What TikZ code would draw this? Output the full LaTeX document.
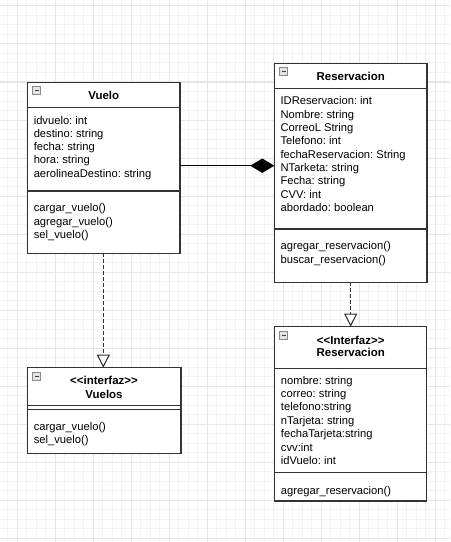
\documentclass[tikz,border=0pt]{standalone}
\usepackage{fontspec}
\newfontfamily\umlfont{Liberation Sans}
\usetikzlibrary{arrows.meta}
\definecolor{gridminor}{HTML}{F3F3F3}
\definecolor{gridmajor}{HTML}{E6E6E6}
\definecolor{boxline}{HTML}{333333}
\definecolor{iconfill}{HTML}{E4E4E4}
\definecolor{iconline}{HTML}{8A8A8A}
\frenchspacing
\tikzset{
  classbox/.style={draw=boxline, line width=1pt, fill=white, inner sep=0pt, outer sep=0pt, anchor=north west},
  sepline/.style={draw=boxline, line width=1pt},
  txt/.style={inner sep=0pt, anchor=base west, font=\umlfont\fontsize{8.4}{10}\selectfont},
  ttl/.style={inner sep=0pt, anchor=base, font=\umlfont\bfseries\fontsize{8.6}{10}\selectfont},
  realize/.style={draw=boxline, line width=0.8pt, dash pattern=on 2.4pt off 2.1pt,
    -{Triangle[length=9.8pt,width=9.8pt,fill=white,line width=0.8pt]}},
  compose/.style={draw=black, line width=0.8pt, -{Diamond[length=18pt,width=10.8pt]}},
}
% collapse icon drawn in the top-left corner of a class box
\newcommand{\collapseicon}[2]{%
  \draw[draw=iconline, fill=iconfill, line width=0.5pt] (#1,#2) rectangle ++(8,8);
  \draw[draw=black!75, line width=0.5pt] (#1+2,#2+4) -- ++(4,0);
}
\begin{document}
\begin{tikzpicture}[x=0.75pt,y=-0.75pt]
\useasboundingbox (0,0) rectangle (450,542);
\fill[white] (0,0) rectangle (450,542);

% background grid
\foreach \i in {-2,...,58} {
  \draw[gridminor, line width=0.75pt] (17+\i*9.5,0) -- (17+\i*9.5,542);
  \draw[gridminor, line width=0.75pt] (0,6+\i*9.5) -- (450,6+\i*9.5);
}
\foreach \i in {0,...,14} {
  \draw[gridmajor, line width=0.75pt] (17+\i*38,0) -- (17+\i*38,542);
  \draw[gridmajor, line width=0.75pt] (0,6+\i*38) -- (450,6+\i*38);
}

% ---------- class Vuelo ----------
\node[classbox, minimum width=152.7*0.75pt, minimum height=171*0.75pt] (vuelo) at (27.3,82.3) {};
\draw[sepline] (vuelo.west |- 0,107.7) -- (vuelo.east |- 0,107.7);
\draw[sepline] (vuelo.west |- 0,191) -- (vuelo.east |- 0,191);
\collapseicon{32.7}{86.7}
\node[ttl] (vuelotitle) at (103.7,99) {Vuelo};
\foreach \t [count=\i] in {idvuelo: int, destino: string, fecha: string, hora: string, aerolineaDestino: string}
  \node[txt] (vueloattr\i) at (33.5,124+13.3*\i-13.3) {\t};
\foreach \t [count=\i] in {cargar\_vuelo(), agregar\_vuelo(), sel\_vuelo()}
  \node[txt] (vueloop\i) at (33.5,211.7+13.3*\i-13.3) {\t};

% ---------- class Reservacion ----------
\node[classbox, minimum width=152.7*0.75pt, minimum height=219*0.75pt] (res) at (274.3,63.3) {};
\draw[sepline] (res.west |- 0,88.3) -- (res.east |- 0,88.3);
\draw[sepline] (res.west |- 0,229) -- (res.east |- 0,229);
\collapseicon{279.5}{67.5}
\node[ttl] (restitle) at (350.7,80) {Reservacion};
\foreach \t [count=\i] in {IDReservacion: int, Nombre: string, CorreoL String, Telefono: int,
    fechaReservacion: String, NTarketa: string, Fecha: string, CVV: int, abordado: boolean}
  \node[txt] (resattr\i) at (280.3,104.7+13.37*\i-13.37) {\t};
\foreach \t [count=\i] in {agregar\_reservacion(), buscar\_reservacion()}
  \node[txt] (resop\i) at (280.3,249.7+13.3*\i-13.3) {\t};

% ---------- interface Vuelos ----------
\node[classbox, minimum width=153.7*0.75pt, minimum height=85.6*0.75pt] (vuelos) at (27.3,367.7) {};
\draw[sepline] (vuelos.west |- 0,405.7) -- (vuelos.east |- 0,405.7);
\draw[sepline] (vuelos.west |- 0,409.3) -- (vuelos.east |- 0,409.3);
\collapseicon{32.7}{372}
\node[ttl] (vuelosstereo) at (104,384) {<<interfaz>>};
\node[ttl] (vuelostitle) at (104,398.3) {Vuelos};
\foreach \t [count=\i] in {cargar\_vuelo(), sel\_vuelo()}
  \node[txt] (vuelosop\i) at (33.5,430+13.3*\i-13.3) {\t};

% ---------- interface Reservacion ----------
\node[classbox, minimum width=152*0.75pt, minimum height=174.3*0.75pt] (ires) at (274.7,326.7) {};
\draw[sepline] (ires.west |- 0,368.3) -- (ires.east |- 0,368.3);
\draw[sepline] (ires.west |- 0,472.7) -- (ires.east |- 0,472.7);
\collapseicon{279.5}{331}
\node[ttl] (iresstereo) at (350.7,344) {<<Interfaz>>};
\node[ttl] (irestitle) at (350.7,356.7) {Reservacion};
\foreach \t [count=\i] in {nombre: string, correo: string, telefono:string, nTarjeta: string,
    fechaTarjeta:string, cvv:int, idVuelo: int}
  \node[txt] (iresattr\i) at (280.7,384+13.45*\i-13.45) {\t};
\node[txt] (iresop1) at (280.7,494.7) {agregar\_reservacion()};

% ---------- relations ----------
\coordinate (complevel) at (0,165.7);
\draw[compose] (vuelo.east |- complevel) -- (res.west |- complevel);
\draw[realize] (vuelo.south -| 103.3,0) -- (vuelos.north -| 103.3,0);
\draw[realize] (res.south) -- (res.south |- ires.north);
\end{tikzpicture}
\end{document}
